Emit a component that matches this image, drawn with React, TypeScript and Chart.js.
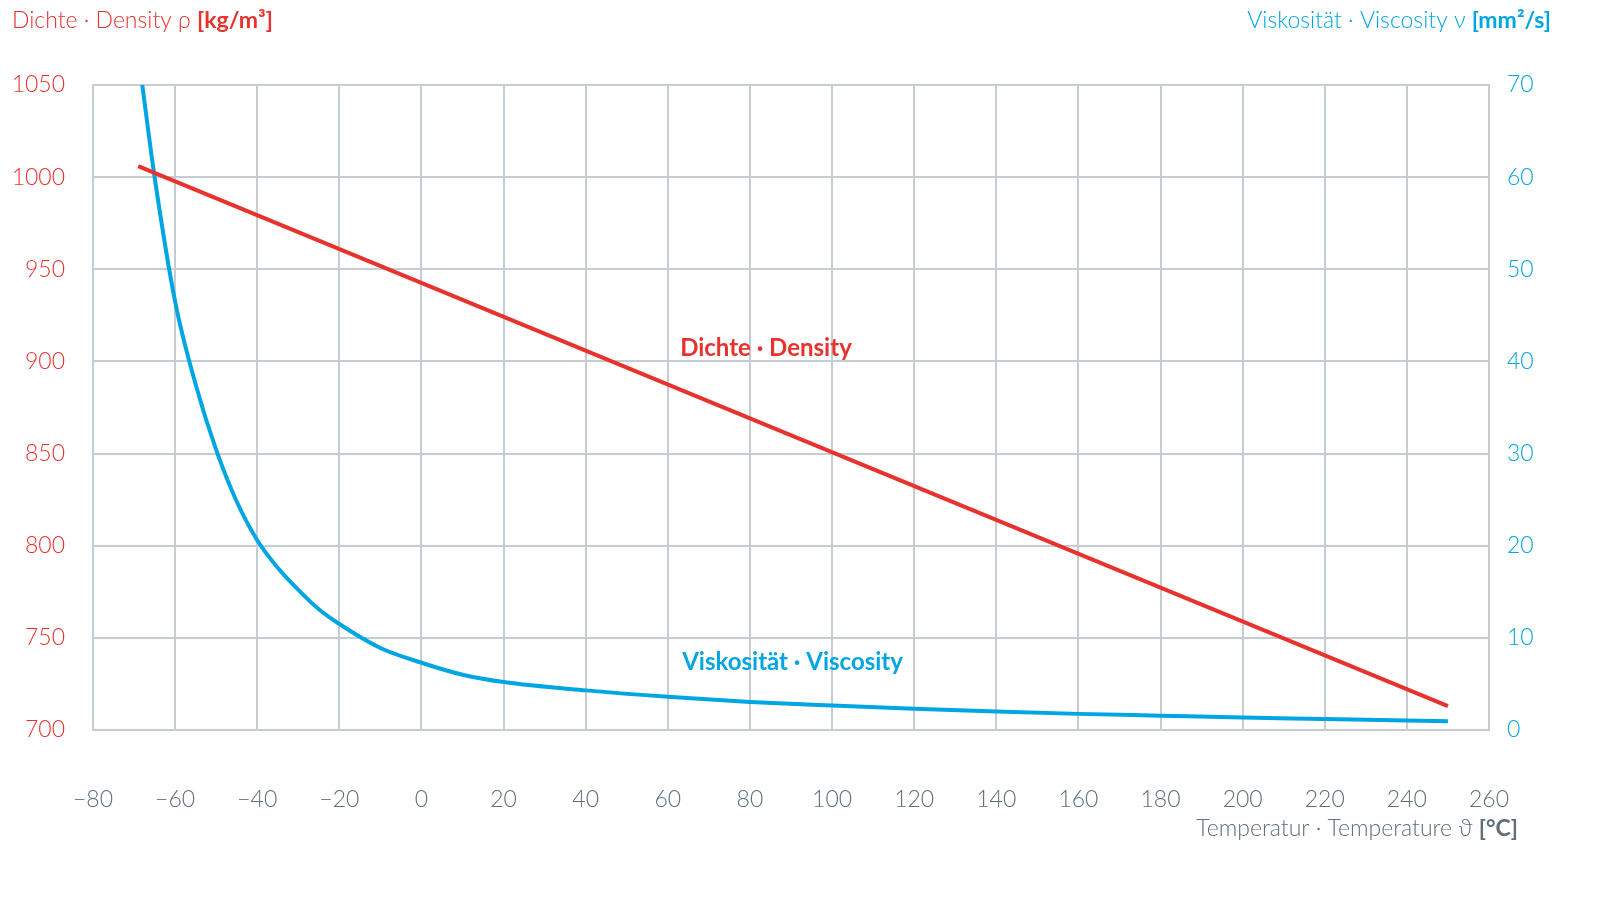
import React, { useEffect, useRef } from "react";
import { Chart, registerables } from "chart.js";
Chart.register(...registerables);

const densityT = [-69, 250];
const densityV = [1006, 713];
const viscT = [-68, -65, -60, -55, -50, -45, -40, -35, -30, -25, -20, -10, 0, 10, 20, 40, 60, 80, 100, 120, 140, 160, 180, 200, 220, 250];
const viscV = [70, 60, 46.5, 37.5, 30.4, 24.8, 20.6, 17.6, 15.2, 13.1, 11.5, 8.9, 7.3, 6.0, 5.2, 4.3, 3.6, 3.05, 2.65, 2.3, 2.0, 1.75, 1.55, 1.35, 1.2, 0.95];

const RED = "#e8322d";
const BLUE = "#00a6e2";
const GRAY = "#5e6e7a";
const GRID = "#c4cdd4";
const FONT = "Lato";

const labels = {
  id: "labels",
  afterDraw(c: any) {
    const ctx = c.ctx;
    const x = c.scales.x, yl = c.scales.y, yr = c.scales.y2;
    ctx.save();
    ctx.textBaseline = "middle";
    ctx.font = `bold 24px ${FONT}`;
    ctx.fillStyle = RED;
    ctx.textAlign = "left";
    ctx.fillText("Dichte · Density", x.getPixelForValue(63), yl.getPixelForValue(907));
    ctx.fillStyle = BLUE;
    ctx.fillText("Viskosität · Viscosity", x.getPixelForValue(63.5), yr.getPixelForValue(7.4));

    const seg = (parts: [string, boolean][], xx: number, yy: number, color: string, align: string) => {
      let w = 0;
      parts.forEach(([t, b]) => { ctx.font = `${b ? "bold " : "300 "}23px ${FONT}`; w += ctx.measureText(t).width; });
      let px = align === "right" ? xx - w : xx;
      ctx.textAlign = "left";
      ctx.fillStyle = color;
      parts.forEach(([t, b]) => { ctx.font = `${b ? "bold " : "300 "}23px ${FONT}`; ctx.fillText(t, px, yy); px += ctx.measureText(t).width; });
    };
    seg([["Dichte · Density ρ ", false], ["[kg/m³]", true]], 12, 21, RED, "left");
    seg([["Viskosität · Viscosity ν ", false], ["[mm²/s]", true]], 1551, 21, BLUE, "right");
    seg([["Temperatur · Temperature ϑ ", false], ["[°C]", true]], 1518, 829, GRAY, "right");
    ctx.restore();
  },
};

export default function App() {
  const ref = useRef<HTMLCanvasElement>(null);
  useEffect(() => {
    document.body.style.margin = "0";
    const tick = (color: string) => ({ color, font: { family: FONT, size: 23, weight: 300 as any } });
    const chart = new Chart(ref.current!, {
      type: "line",
      data: {
        datasets: [
          { data: densityT.map((t, i) => ({ x: t, y: densityV[i] })), borderColor: RED, borderWidth: 4, pointRadius: 0, yAxisID: "y" },
          { data: viscT.map((t, i) => ({ x: t, y: viscV[i] })), borderColor: BLUE, borderWidth: 4, pointRadius: 0, yAxisID: "y2", cubicInterpolationMode: "monotone" },
        ],
      },
      options: {
        animation: false,
        responsive: false,
        layout: { padding: { top: 85 } },
        plugins: { legend: { display: false }, tooltip: { enabled: false } },
        scales: {
          x: {
            type: "linear", min: -80, max: 260,
            ticks: { ...tick(GRAY), stepSize: 20, padding: 56, callback: (v: any) => String(v).replace("-", "−") },
            grid: { color: GRID, lineWidth: 2, drawTicks: false },
            border: { color: GRID, width: 2 },
            afterFit: (s: any) => { s.height = 185; },
          },
          y: {
            position: "left", min: 700, max: 1050,
            ticks: { ...tick(RED), stepSize: 50, padding: 28, callback: (v: any) => String(v) },
            grid: { color: GRID, lineWidth: 2, drawTicks: false },
            border: { color: GRID, width: 2 },
            afterFit: (s: any) => { s.width = 93; },
          },
          y2: {
            position: "right", min: 0, max: 70,
            ticks: { ...tick(BLUE), stepSize: 10, padding: 18, callback: (v: any) => String(v) },
            grid: { display: false, drawTicks: false },
            border: { color: GRID, width: 2 },
            afterFit: (s: any) => { s.width = 111; },
          },
        },
      } as any,
      plugins: [labels],
    });
    return () => chart.destroy();
  }, []);
  return <canvas ref={ref} width={1600} height={915} style={{ display: "block" }} />;
}
